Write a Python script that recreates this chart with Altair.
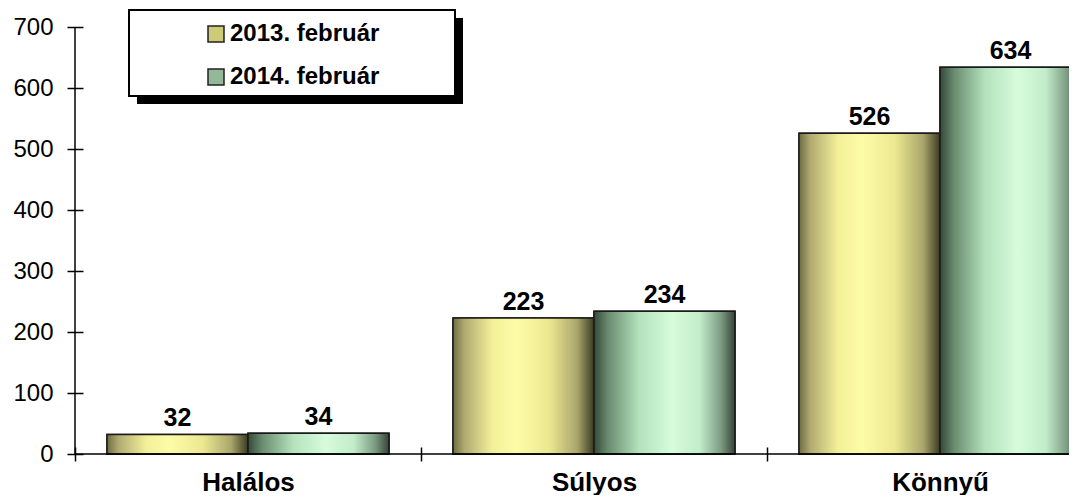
import altair as alt
import pandas as pd

categories = ["Halálos", "Súlyos", "Könnyű"]
series = ["2013. február", "2014. február"]
values_2013 = [32, 223, 526]
values_2014 = [34, 234, 634]
y_ticks = [0, 100, 200, 300, 400, 500, 600, 700]

rows = []
for c, a, b in zip(categories, values_2013, values_2014):
    rows.append({"cat": c, "series": series[0], "value": a})
    rows.append({"cat": c, "series": series[1], "value": b})
df = pd.DataFrame(rows)
one = pd.DataFrame({"k": [0]})

FONT = "Liberation Sans"
W = 994          # visible plot width
FULL = 1038      # width of the three category bands (last one cropped)
H = 427

grad13 = {"gradient": "linear", "x1": 0, "y1": 0, "x2": 1, "y2": 0,
          "stops": [{"offset": 0.0, "color": "#6e6c44"},
                    {"offset": 0.08, "color": "#b0aa70"},
                    {"offset": 0.28, "color": "#f4f09a"},
                    {"offset": 0.45, "color": "#fdfca6"},
                    {"offset": 0.68, "color": "#ece890"},
                    {"offset": 0.88, "color": "#aaa66c"},
                    {"offset": 1.0, "color": "#3a3a22"}]}
grad14 = {"gradient": "linear", "x1": 0, "y1": 0, "x2": 1, "y2": 0,
          "stops": [{"offset": 0.0, "color": "#34483a"},
                    {"offset": 0.1, "color": "#6a8c70"},
                    {"offset": 0.32, "color": "#b4e2bc"},
                    {"offset": 0.55, "color": "#d6fcdc"},
                    {"offset": 0.75, "color": "#c2ecca"},
                    {"offset": 0.9, "color": "#7c9c82"},
                    {"offset": 1.0, "color": "#34443a"}]}

x_enc = alt.X("cat:N", sort=categories,
              scale=alt.Scale(domain=categories, range=[0, FULL], paddingInner=0, paddingOuter=0),
              axis=alt.Axis(title=None, labelAngle=0, domain=False, tickBand="extent",
                            tickSize=14, offset=-7, tickColor="black", tickWidth=1.5,
                            labelPadding=8, labelFont=FONT, labelFontSize=26,
                            labelFontWeight="bold", labelColor="black", grid=False))
xo_enc = alt.XOffset("series:N", sort=series,
                     scale=alt.Scale(domain=series, paddingInner=0, paddingOuter=0.227))
y_enc = alt.Y("value:Q", scale=alt.Scale(domain=[0, 700], nice=False),
              axis=alt.Axis(title=None, values=y_ticks, domain=False, grid=False,
                            tickSize=16, offset=-8, tickColor="black", tickWidth=1.5,
                            labelPadding=14, labelFont=FONT, labelFontSize=24,
                            labelColor="black"))

base = alt.Chart(df)

shadow = alt.Chart(one).mark_rect(color="black").encode(
    x=alt.value(62), x2=alt.value(388), y=alt.value(-9), y2=alt.value(77))
box = alt.Chart(one).mark_rect(fill="white", stroke="black", strokeWidth=2).encode(
    x=alt.value(54), x2=alt.value(380), y=alt.value(-17), y2=alt.value(69))

bars_legend = base.mark_bar(stroke="#1a1a1a", strokeWidth=1.5).encode(
    x=x_enc, xOffset=xo_enc, y=y_enc,
    color=alt.Color("series:N", sort=series,
                    scale=alt.Scale(domain=series, range=["#cfca78", "#92b898"]),
                    legend=alt.Legend(orient="none", legendX=129, legendY=-5, title=None,
                                      symbolType="square", symbolSize=256,
                                      symbolStrokeColor="#222", symbolStrokeWidth=1.5,
                                      symbolOpacity=1, labelFont=FONT, labelFontSize=24,
                                      labelFontWeight="bold", labelColor="black",
                                      rowPadding=19, labelOffset=2, padding=0)))

bars_grad = base.mark_bar(stroke="#1a1a1a", strokeWidth=1.5).encode(
    x=x_enc, xOffset=xo_enc, y=y_enc,
    fill={"condition": {"test": "datum.series === '2013. február'", "value": grad13},
          "value": grad14})

labels = base.mark_text(font=FONT, fontSize=25, fontWeight="bold", color="black",
                        baseline="alphabetic", dy=-8).encode(
    x=x_enc, xOffset=xo_enc, y=y_enc, text=alt.Text("value:Q"))

y_domain = alt.Chart(one).mark_rule(color="black", strokeWidth=1.5).encode(
    x=alt.value(0), y=alt.datum(0), y2=alt.datum(700))
x_domain = alt.Chart(one).mark_rule(color="black", strokeWidth=1.5).encode(
    x=alt.value(0), x2=alt.value(W), y=alt.datum(0))

chart = alt.layer(shadow, box, bars_legend, bars_grad, labels, y_domain, x_domain).properties(
    width=W, height=H,
    autosize=alt.AutoSizeParams(type="none"),
    padding={"left": 67, "top": 19, "right": 0, "bottom": 41},
    background="white",
).configure_view(stroke=None)

chart.save("out.html", embed_options={"renderer": "svg", "actions": False})
